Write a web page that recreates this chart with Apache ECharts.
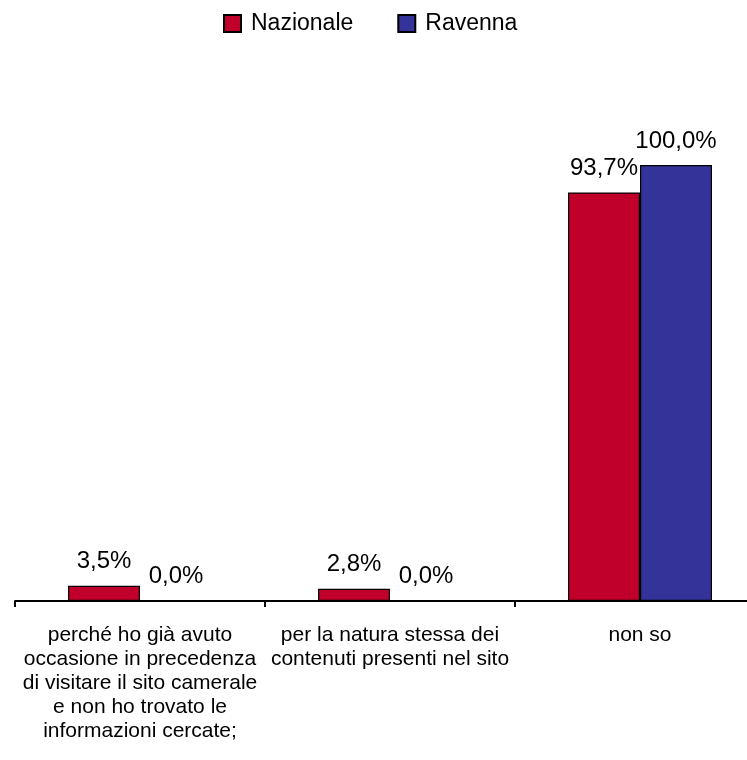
<!DOCTYPE html>
<html><head><meta charset="utf-8">
<script src="https://cdn.jsdelivr.net/npm/echarts@6/dist/echarts.min.js"></script>
<style>html,body{margin:0;padding:0;background:#fff;overflow:hidden;width:747px;height:760px}#c{width:770px;height:760px}</style>
</head><body><div id="c"></div>
<script>
var categories = [
  "perché ho già avuto\noccasione in precedenza\ndi visitare il sito camerale\ne non ho trovato le\ninformazioni cercate;",
  "per la natura stessa dei\ncontenuti presenti nel sito",
  "non so"
];
var nazionale = [3.5, 2.8, 93.7];
var ravenna = [0.0, 0.0, 100.0];
var seriesNames = ["Nazionale", "Ravenna"];

var font = "'Liberation Sans', Arial, sans-serif";
function fmt(p){ return p.value.toFixed(1).replace('.', ',') + '%'; }
var chart = echarts.init(document.getElementById('c'), null, {renderer:'canvas'});
chart.setOption({
  animation:false,
  legend:{
    data:seriesNames, top:7, left:218, itemWidth:17, itemHeight:17, itemGap:44,
    icon:'rect',
    textStyle:{fontFamily:font, fontSize:23, color:'#000', padding:[0,0,0,5]}
  },
  grid:{left:15, top:165, width:750, height:436, containLabel:false},
  xAxis:{
    type:'category', data:categories,
    axisLine:{lineStyle:{color:'#000', width:2}},
    axisTick:{show:true, length:6, lineStyle:{color:'#000', width:2}},
    axisLabel:{fontFamily:font, fontSize:21, color:'#000', lineHeight:24, margin:22, interval:0, align:'center'}
  },
  yAxis:{type:'value', min:0, max:100, show:false, splitLine:{show:false}},
  series:[
    {name:seriesNames[0], type:'bar', data:nazionale, barWidth:72, barGap:'0%',
     itemStyle:{color:'#C0002A', borderColor:'#000', borderWidth:1.2},
     label:{show:true, position:'top', distance:12, formatter:fmt, fontFamily:font, fontSize:24, color:'#000'}},
    {name:seriesNames[1], type:'bar', data:ravenna, barWidth:72, barGap:'0%',
     itemStyle:{color:'#333399', borderColor:'#000', borderWidth:1.2},
     label:{show:true, position:'top', distance:12, formatter:fmt, fontFamily:font, fontSize:24, color:'#000'}}
  ]
});
</script></body></html>
